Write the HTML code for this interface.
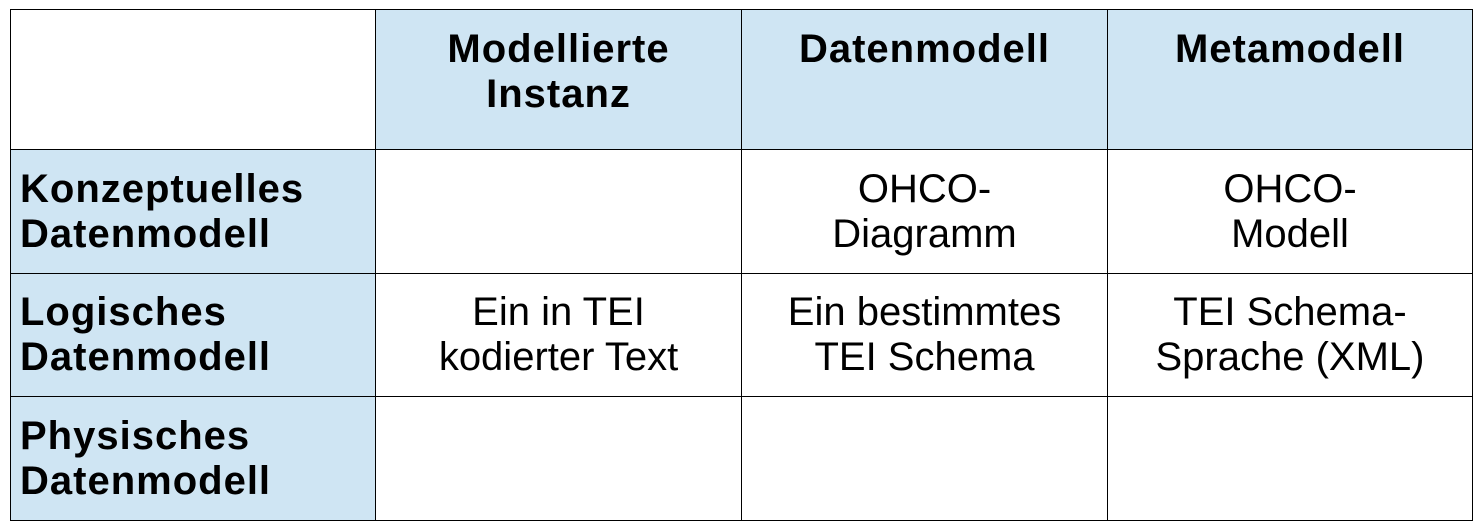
<!DOCTYPE html>
<html><head><style>
body{margin:0;width:1480px;height:528px;background:#fff;position:relative;font-family:"Liberation Sans",sans-serif;}
.c{position:absolute;box-sizing:border-box;border:1px solid #000;display:flex;align-items:center;justify-content:center;text-align:center;font-size:40px;letter-spacing:0;line-height:45px;color:#000;}
.b{background:#cfe5f3;font-weight:bold;letter-spacing:1px;}
.h{align-items:flex-start;padding-top:17px;}
.l{justify-content:flex-start;text-align:left;padding-left:9px;}
</style></head><body>
<div class="c" style="left:10px;top:9px;width:366px;height:141px"></div>
<div class="c b h" style="left:375px;top:9px;width:367px;height:141px">Modellierte<br>Instanz</div>
<div class="c b h" style="left:741px;top:9px;width:367px;height:141px">Datenmodell</div>
<div class="c b h" style="left:1107px;top:9px;width:366px;height:141px">Metamodell</div>

<div class="c b l" style="left:10px;top:149px;width:366px;height:125px">Konzeptuelles<br>Datenmodell</div>
<div class="c" style="left:375px;top:149px;width:367px;height:125px"></div>
<div class="c" style="left:741px;top:149px;width:367px;height:125px">OHCO-<br>Diagramm</div>
<div class="c" style="left:1107px;top:149px;width:366px;height:125px">OHCO-<br>Modell</div>

<div class="c b l" style="left:10px;top:273px;width:366px;height:124px">Logisches<br>Datenmodell</div>
<div class="c" style="left:375px;top:273px;width:367px;height:124px">Ein in TEI<br>kodierter Text</div>
<div class="c" style="left:741px;top:273px;width:367px;height:124px">Ein bestimmtes<br>TEI Schema</div>
<div class="c" style="left:1107px;top:273px;width:366px;height:124px">TEI Schema-<br>Sprache (XML)</div>

<div class="c b l" style="left:10px;top:396px;width:366px;height:125px">Physisches<br>Datenmodell</div>
<div class="c" style="left:375px;top:396px;width:367px;height:125px"></div>
<div class="c" style="left:741px;top:396px;width:367px;height:125px"></div>
<div class="c" style="left:1107px;top:396px;width:366px;height:125px"></div>
</body></html>
